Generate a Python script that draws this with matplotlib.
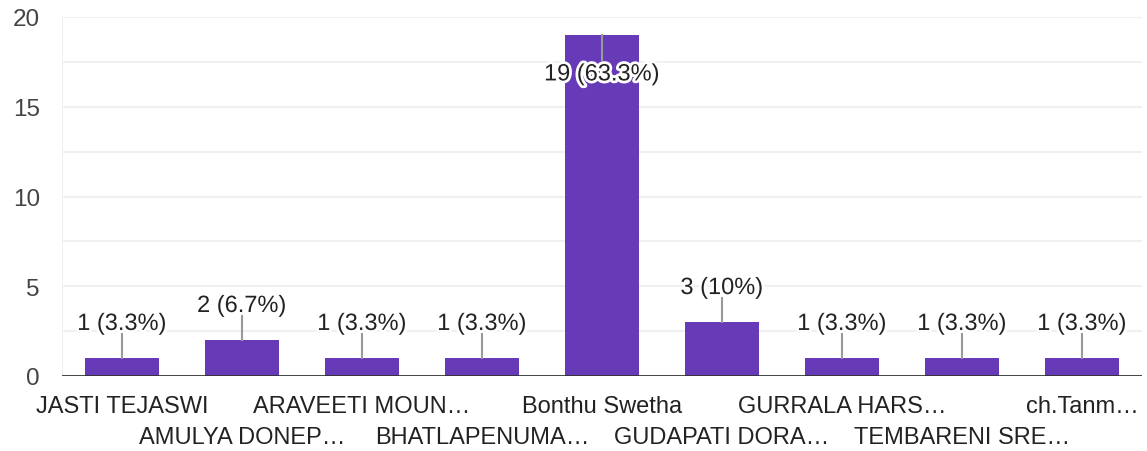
import numpy as np
import matplotlib as mpl
mpl.use('Agg')
import matplotlib.pyplot as plt
import matplotlib.patheffects as pe

# Dados
nomes = ['JASTI TEJASWI', 'AMULYA DONEP…', 'ARAVEETI MOUN…', 'BHATLAPENUMA…',
         'Bonthu Swetha', 'GUDAPATI DORA…', 'GURRALA HARS…', 'TEMBARENI SRE…',
         'ch.Tanm…']
contagens = [1, 2, 1, 1, 19, 3, 1, 1, 1]
yticks = [0, 5, 10, 15, 20]

total = sum(contagens)
cor_barra = '#673ab7'
cor_texto = '#222222'
plt.rcParams['font.family'] = ['Liberation Sans', 'DejaVu Sans']

fig = plt.figure(figsize=(11.47, 4.52), dpi=100)
ax = fig.add_axes([62 / 1147, 75 / 452, 1080 / 1147, 359 / 452])

x = np.arange(len(nomes))
ax.bar(x, contagens, width=0.62, color=cor_barra, zorder=2)

ax.set_xlim(-0.5, len(nomes) - 0.5)
ax.set_ylim(0, 20)

# grade horizontal a cada 2.5
for g in np.arange(2.5, 20.1, 2.5):
    ax.axhline(g, color='#f0f0f0', lw=1.5, zorder=0)
ax.axvline(-0.5, color='#f0f0f0', lw=1.5, zorder=0)
ax.axhline(0, color='#333333', lw=2, zorder=3)

for s in ax.spines.values():
    s.set_visible(False)

ax.set_yticks(yticks)
ax.set_yticklabels([str(t) for t in yticks], fontsize=17.5, color='#444444')
ax.tick_params(axis='y', length=0, pad=16)
ax.set_xticks([])

# rótulos do eixo x em duas linhas alternadas
for i, nome in enumerate(nomes):
    yoff = -1.65 if i % 2 == 0 else -3.4
    ax.text(i, yoff, nome, ha='center', va='center', fontsize=17,
            color=cor_texto, clip_on=False)

# rótulos das barras com linha guia
halo = [pe.withStroke(linewidth=4, foreground='white')]
for i, v in enumerate(contagens):
    pct = 100 * v / total
    txt = f"{v} ({pct:.1f}%)" if pct % 1 > 0.05 else f"{v} ({pct:.0f}%)"
    if v + 2.5 > 20:
        ax.plot([i, i], [v, v - 1.4], color='#999999', lw=1.5, zorder=3)
        ty = v - 2.2
    else:
        ax.plot([i, i], [v, v + 1.34], color='#999999', lw=1.5, zorder=3)
        ty = v + 1.9
    ax.text(i, ty, txt, ha='center', va='center', fontsize=17,
            color=cor_texto, zorder=4, path_effects=halo)

plt.savefig('out.png', dpi=100)
plt.close()
